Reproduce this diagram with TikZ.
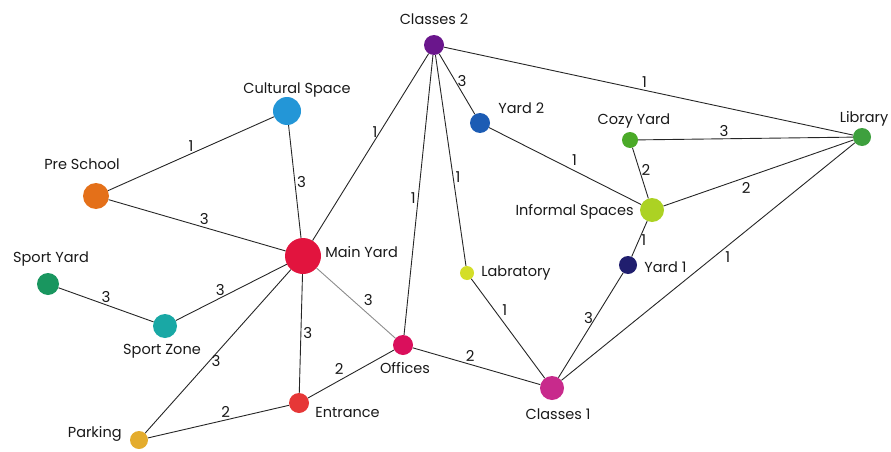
\documentclass[tikz,border=0pt]{standalone}
\usepackage{fontspec}
\setmainfont{Poppins}
\usetikzlibrary{positioning}
\definecolor{purp}{RGB}{106,22,140}
\definecolor{culblue}{RGB}{35,150,215}
\definecolor{preorange}{RGB}{228,112,25}
\definecolor{mainred}{RGB}{226,20,62}
\definecolor{sportgreen}{RGB}{25,150,95}
\definecolor{zoneteal}{RGB}{25,168,165}
\definecolor{parkgold}{RGB}{228,172,45}
\definecolor{entred}{RGB}{230,55,55}
\definecolor{offpink}{RGB}{218,15,92}
\definecolor{labyellow}{RGB}{212,222,40}
\definecolor{yardblue}{RGB}{28,92,180}
\definecolor{cozygreen}{RGB}{75,170,40}
\definecolor{libgreen}{RGB}{62,160,62}
\definecolor{inflime}{RGB}{172,210,35}
\definecolor{yardnavy}{RGB}{32,30,110}
\definecolor{clsmagenta}{RGB}{200,42,140}
\tikzstyle{place} = [circle, inner sep=0pt]
\tikzstyle{tag} = [inner sep=0pt, font=\fontsize{14.5}{15}\selectfont, text=black!90]
\tikzstyle{edge} = [draw=black!85, line width=0.9pt]
\tikzstyle{weight} = [inner sep=2pt, font=\fontsize{15}{16}\selectfont, text=black!90]

\begin{document}
\begin{tikzpicture}[x=1pt, y=-1pt]
        \useasboundingbox (0,0) rectangle (891,452);
        \node (classes2) [place, fill=purp, minimum size=20pt] at (434,45) {};
        \node (cultural) [place, fill=culblue, minimum size=28pt] at (287,111) {};
        \node (preschool) [place, fill=preorange, minimum size=26pt] at (96,196) {};
        \node (mainyard) [place, fill=mainred, minimum size=36pt] at (303,256) {};
        \node (sportyard) [place, fill=sportgreen, minimum size=22pt] at (48,284) {};
        \node (sportzone) [place, fill=zoneteal, minimum size=24pt] at (165,326) {};
        \node (parking) [place, fill=parkgold, minimum size=18pt] at (139,440) {};
        \node (entrance) [place, fill=entred, minimum size=20pt] at (299,403) {};
        \node (offices) [place, fill=offpink, minimum size=20pt] at (403,345) {};
        \node (lab) [place, fill=labyellow, minimum size=14pt] at (467,273) {};
        \node (yard2) [place, fill=yardblue, minimum size=20pt] at (480,123) {};
        \node (cozy) [place, fill=cozygreen, minimum size=16pt] at (630,140) {};
        \node (library) [place, fill=libgreen, minimum size=18pt] at (862,137) {};
        \node (informal) [place, fill=inflime, minimum size=24pt] at (652,210) {};
        \node (yard1) [place, fill=yardnavy, minimum size=18pt] at (628,265) {};
        \node (classes1) [place, fill=clsmagenta, minimum size=24pt] at (552,388) {};

        \node (classes2-t) [tag, above=10pt of classes2] {Classes 2};
        \node (cultural-t) [tag, above=-1pt of cultural, xshift=10pt] {Cultural Space};
        \node (preschool-t) [tag, above=13pt of preschool, xshift=-14pt] {Pre School};
        \node (mainyard-t) [tag, right=4pt of mainyard, yshift=4pt] {Main Yard};
        \node (sportyard-t) [tag, above=6pt of sportyard, xshift=3pt] {Sport Yard};
        \node (sportzone-t) [tag, below=6pt of sportzone, xshift=-3pt] {Sport Zone};
        \node (parking-t) [tag, left=8pt of parking, yshift=6pt] {Parking};
        \node (entrance-t) [tag, right=6pt of entrance, yshift=-9pt] {Entrance};
        \node (offices-t) [tag, below=7pt of offices, xshift=2pt] {Offices};
        \node (lab-t) [tag, right=7pt of lab] {Labratory};
        \node (yard2-t) [tag, right=8pt of yard2, yshift=15pt] {Yard 2};
        \node (cozy-t) [tag, above=3pt of cozy, xshift=4pt] {Cozy Yard};
        \node (library-t) [tag, above=1pt of library, xshift=2pt] {Library};
        \node (informal-t) [tag, left=6pt of informal, yshift=-2pt] {Informal Spaces};
        \node (yard1-t) [tag, right=7pt of yard1, yshift=-2pt] {Yard 1};
        \node (classes1-t) [tag, below=8pt of classes1, xshift=6pt] {Classes 1};

        \draw [edge] (preschool) -- node [weight, pos=.5, above] {1} (cultural);
        \draw [edge] (preschool) -- node [weight, pos=.54, above] {3} (mainyard);
        \draw [edge] (cultural) -- node [weight, pos=.5, right] {3} (mainyard);
        \draw [edge] (classes2) -- node [weight, pos=.42, left] {1} (mainyard);
        \draw [edge] (sportyard) -- node [weight, pos=.5, above] {3} (sportzone);
        \draw [edge] (sportzone) -- node [weight, pos=.4, above] {3} (mainyard);
        \draw [edge] (mainyard) -- node [weight, pos=.56, right] {3} (parking);
        \draw [edge] (mainyard) -- node [weight, pos=.5, right] {3} (entrance);
        \draw [edge, draw=black!45] (mainyard) -- node [weight, pos=.57, above right] {3} (offices);
        \draw [edge] (parking) -- node [weight, pos=.55, above] {2} (entrance);
        \draw [edge] (entrance) -- node [weight, pos=.44, above left] {2} (offices);
        \draw [edge] (offices) -- node [weight, pos=.49, left] {1} (classes2);
        \draw [edge] (offices) -- node [weight, pos=.45, above] {2} (classes1);
        \draw [edge] (classes2) -- node [weight, pos=.58, right] {1} (lab);
        \draw [edge] (classes2) -- node [weight, pos=.45, right] {3} (yard2);
        \draw [edge] (classes2) -- node [weight, pos=.49, above] {1} (library);
        \draw [edge] (yard2) -- node [weight, pos=.53, above right] {1} (informal);
        \draw [edge] (cozy) -- node [weight, pos=.4, above] {3} (library);
        \draw [edge] (cozy) -- node [weight, pos=.43, right] {2} (informal);
        \draw [edge] (informal) -- node [weight, pos=.4, below right] {2} (library);
        \draw [edge] (informal) -- node [weight, pos=.53, right] {1} (yard1);
        \draw [edge] (yard1) -- node [weight, pos=.43, left] {3} (classes1);
        \draw [edge] (library) -- node [weight, pos=.45, below right] {1} (classes1);
        \draw [edge] (lab) -- node [weight, pos=.39, above right] {1} (classes1);
    \end{tikzpicture}
\end{document}
